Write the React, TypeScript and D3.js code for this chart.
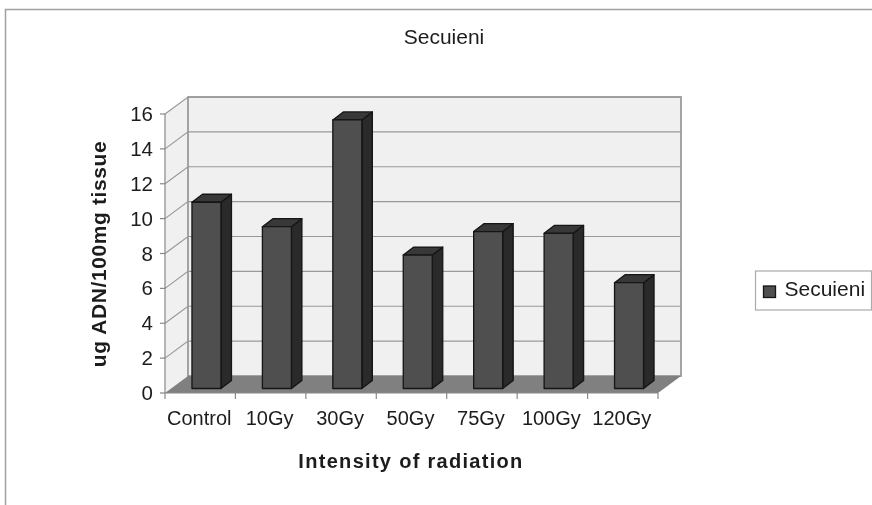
import React, { useEffect, useRef } from 'react'
import * as d3 from 'd3'

const categories = ['Control', '10Gy', '30Gy', '50Gy', '75Gy', '100Gy', '120Gy']
const values = [10.68, 9.28, 15.4, 7.65, 9.0, 8.9, 6.07]
const yTicks = [0, 2, 4, 6, 8, 10, 12, 14, 16]
const seriesName = 'Secuieni'
const yTitle = 'ug ADN/100mg tissue'
const xTitle = 'Intensity of radiation'

const font = 'Liberation Sans, Arial, sans-serif'

const App: React.FC = () => {
    const chartRef = useRef<SVGSVGElement | null>(null)

    useEffect(() => {
        if (!chartRef.current) return
        const width = 872
        const height = 505
        const svg = d3.select(chartRef.current)
            .attr('width', width)
            .attr('height', height)
            .attr('viewBox', `0 0 ${width} ${height}`)
            .style('position', 'absolute')
            .style('left', 0)
            .style('top', 0)
            .style('background', '#fff')
        svg.selectAll('*').remove()

        const defs = svg.append('defs')
        defs.append('filter').attr('id', 'soft')
            .append('feGaussianBlur').attr('stdDeviation', 0.45)

        const root = svg.append('g').attr('filter', 'url(#soft)')

        // outer frame, runs off the right and bottom of the picture
        root.append('path')
            .attr('d', 'M5.5,505 L5.5,9.5 L872,9.5')
            .attr('fill', 'none')
            .attr('stroke', '#a0a0a0')
            .attr('stroke-width', 1.5)

        const x = d3.scaleBand<string>().domain(categories).range([165, 658])
        const y = d3.scaleLinear().domain([0, 16]).range([393, 114])
        const dx = 23
        const dy = 17
        const [x0, x1] = x.range()
        const y0 = y(0)
        const yTop = y(16)

        // walls and floor
        root.append('path')
            .attr('d', `M${x0},${y0} L${x0 + dx},${y0 - dy} L${x0 + dx},${yTop - dy} L${x0},${yTop} Z`)
            .attr('fill', '#f0f0f0')
        root.append('rect')
            .attr('x', x0 + dx).attr('y', yTop - dy)
            .attr('width', x1 - x0).attr('height', y0 - yTop)
            .attr('fill', '#f0f0f0')
            .attr('stroke', '#909090').attr('stroke-width', 1.6)
        root.append('path')
            .attr('d', `M${x0},${y0} L${x0 + dx},${y0 - dy} L${x1 + dx},${y0 - dy} L${x1},${y0} Z`)
            .attr('fill', '#808080')

        // grid lines, side wall then back wall
        const grid = root.append('g').attr('stroke', '#999').attr('stroke-width', 1.2).attr('fill', 'none')
        yTicks.forEach(t => {
            if (t > 0) {
                grid.append('path')
                    .attr('d', `M${x0},${y(t)} L${x0 + dx},${y(t) - dy} L${x1 + dx},${y(t) - dy}`)
            }
        })

        // value axis
        root.append('line')
            .attr('x1', x0).attr('x2', x0).attr('y1', yTop).attr('y2', y0)
            .attr('stroke', '#888').attr('stroke-width', 1.2)
        root.append('g').selectAll('line').data(yTicks).enter().append('line')
            .attr('x1', x0 - 5).attr('x2', x0)
            .attr('y1', d => y(d)).attr('y2', d => y(d))
            .attr('stroke', '#888').attr('stroke-width', 1.2)
        root.append('g').selectAll('text').data(yTicks).enter().append('text')
            .attr('x', x0 - 12)
            .attr('y', d => y(d) + 7)
            .attr('text-anchor', 'end')
            .attr('font-family', font)
            .attr('font-size', 20.5)
            .attr('fill', '#1c1c1c')
            .text(d => d)

        // category axis
        root.append('line')
            .attr('x1', x0).attr('x2', x1).attr('y1', y0).attr('y2', y0)
            .attr('stroke', '#888').attr('stroke-width', 1.2)
        const xEdges = [...categories.map(c => x(c) as number), x1]
        root.append('g').selectAll('line').data(xEdges).enter().append('line')
            .attr('x1', d => d).attr('x2', d => d)
            .attr('y1', y0).attr('y2', y0 + 6)
            .attr('stroke', '#888').attr('stroke-width', 1.2)
        root.append('g').selectAll('text').data(categories).enter().append('text')
            .attr('x', d => (x(d) as number) + x.bandwidth() / 2 - 1)
            .attr('y', 425)
            .attr('text-anchor', 'middle')
            .attr('font-family', font)
            .attr('font-size', 20)
            .attr('fill', '#1c1c1c')
            .text(d => d)

        // 3d bars, centred in the depth of the floor
        const barW = 29
        const barDx = 10.5
        const barDy = 8
        const offY = (dy - barDy) / 2
        const barLeft = (c: string) => (x(c) as number) + (x.bandwidth() - barW - barDx - dx) / 2 + dx
        const rows = categories.map((c, i) => ({ c, v: values[i] }))
        const bars = root.append('g').selectAll('g').data(rows).enter().append('g')
            .attr('stroke', '#141414').attr('stroke-width', 1.3).attr('stroke-linejoin', 'round')
        bars.append('path')
            .attr('fill', '#2a2a2a')
            .attr('d', d => {
                const l = barLeft(d.c) + barW, b = y0 - offY, t = y(d.v) - offY
                return `M${l},${b} L${l + barDx},${b - barDy} L${l + barDx},${t - barDy} L${l},${t} Z`
            })
        bars.append('path')
            .attr('fill', '#383838')
            .attr('d', d => {
                const l = barLeft(d.c), t = y(d.v) - offY
                return `M${l},${t} L${l + barDx},${t - barDy} L${l + barW + barDx},${t - barDy} L${l + barW},${t} Z`
            })
        bars.append('rect')
            .attr('fill', '#4f4f4f')
            .attr('x', d => barLeft(d.c))
            .attr('y', d => y(d.v) - offY)
            .attr('width', barW)
            .attr('height', d => y0 - y(d.v))

        // titles
        root.append('text')
            .attr('x', 444).attr('y', 44)
            .attr('text-anchor', 'middle')
            .attr('font-family', font).attr('font-size', 21).attr('fill', '#1c1c1c')
            .text(seriesName)
        root.append('text')
            .attr('transform', 'translate(106,254) rotate(-90)')
            .attr('text-anchor', 'middle')
            .attr('font-family', font).attr('font-size', 21).attr('font-weight', 'bold').attr('fill', '#1c1c1c')
            .style('letter-spacing', '0.6px')
            .text(yTitle)
        root.append('text')
            .attr('x', 411).attr('y', 468)
            .attr('text-anchor', 'middle')
            .attr('font-family', font).attr('font-size', 20).attr('font-weight', 'bold').attr('fill', '#1c1c1c')
            .style('letter-spacing', '1.3px')
            .text(xTitle)

        // legend
        const legend = root.append('g')
        legend.append('rect')
            .attr('x', 755.5).attr('y', 271).attr('width', 116).attr('height', 39)
            .attr('fill', '#fff').attr('stroke', '#aaa').attr('stroke-width', 1.2)
        legend.append('rect')
            .attr('x', 763.5).attr('y', 286).attr('width', 12).attr('height', 11.5)
            .attr('fill', '#4f4f4f').attr('stroke', '#141414').attr('stroke-width', 1.3)
        legend.append('text')
            .attr('x', 784.5).attr('y', 296)
            .attr('font-family', font).attr('font-size', 21).attr('fill', '#1c1c1c')
            .text(seriesName)
    }, [])

    return <svg ref={chartRef}></svg>
}

export default App
